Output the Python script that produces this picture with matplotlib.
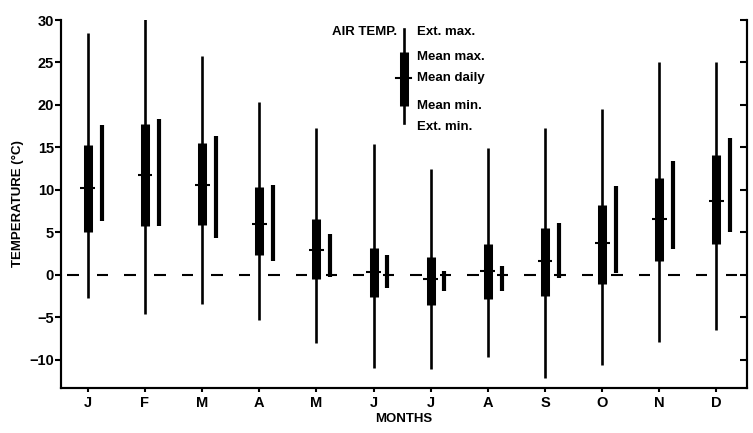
import numpy as np
import matplotlib
matplotlib.use('Agg')
import matplotlib.pyplot as plt

plt.rcParams.update({
    'font.family': ['Liberation Sans', 'DejaVu Sans'],
    'font.size': 10,
    'font.weight': 'bold',
    'axes.labelweight': 'bold',
    'axes.linewidth': 1.5,
})

months = ['J', 'F', 'M', 'A', 'M', 'J', 'J', 'A', 'S', 'O', 'N', 'D']

# air temperature (deg C)
ext_max  = [28.5, 30.3, 25.8, 20.4, 17.3, 15.4, 12.5, 14.9, 17.3, 19.5, 25.1, 25.1]
mean_max = [15.3, 17.8, 15.5, 10.3,  6.6,  3.2,  2.1,  3.6,  5.5,  8.2, 11.4, 14.1]
mean_day = [10.2, 11.8, 10.6,  6.0,  2.9,  0.4, -0.5,  0.5,  1.6,  3.8,  6.6,  8.7]
mean_min = [ 5.1,  5.8,  5.9,  2.4, -0.5, -2.6, -3.5, -2.8, -2.5, -1.1,  1.7,  3.6]
ext_min  = [-2.7, -4.6, -3.4, -5.3, -8.0, -11.0, -11.1, -9.7, -12.1, -10.6, -7.9, -6.5]

# second (narrow) range bar beside each month
sec_top = [17.7, 18.4, 16.4, 10.6, 4.8, 2.4, 0.5, 1.0, 6.1, 10.5, 13.4, 16.1]
sec_bot = [ 6.3,  5.8,  4.4,  1.6, -0.2, -1.5, -1.9, -1.9, -0.3, 0.2, 3.1, 5.1]

x = np.arange(len(months))

fig = plt.figure(figsize=(7.53, 4.33), dpi=100)
ax = fig.add_axes([61/753, 1 - 388/433, 685.7/753, 368/433])

# dashed zero line, one dash either side of each month
for xi in x:
    ax.hlines([0, 0], [xi - 0.36, xi + 0.16], [xi - 0.16, xi + 0.36], color='k', lw=1.5)

ax.vlines(x, ext_min, ext_max, color='k', lw=1.9)
ax.vlines(x, mean_min, mean_max, color='k', lw=6.5)
ax.hlines(mean_day, x - 0.13, x + 0.13, color='k', lw=1.5)
ax.vlines(x + 0.24, sec_bot, sec_top, color='k', lw=3.0)

ax.set_xlim(-0.47, 11.53)
ax.set_ylim(-13.3, 30)
ax.set_yticks(np.arange(-10, 31, 5))
ax.set_yticklabels([str(v).replace('-', '\u2212') for v in range(-10, 31, 5)])
ax.set_xticks(x)
ax.set_xticklabels(months)
ax.spines['top'].set_visible(False)
ax.tick_params(axis='y', direction='out', length=4, width=1.5, pad=1, labelsize=10.5)
ax.tick_params(axis='x', direction='out', length=3, width=1.5, pad=3, labelsize=10.5)

# right-hand axis: mirrored inward ticks, no labels
ax2 = ax.twinx()
ax2.set_ylim(ax.get_ylim())
ax2.set_yticks(np.arange(-10, 31, 5))
ax2.set_yticklabels([])
ax2.tick_params(axis='y', direction='in', length=5, width=1.5)
ax2.spines['top'].set_visible(False)

ax.set_ylabel('TEMPERATURE (\u00b0C)', fontsize=9.5, labelpad=4)
ax.set_xlabel('MONTHS', fontsize=9.5, labelpad=2)

# key
t = ax.transAxes
ax.plot([0.5, 0.5], [0.720, 0.976], color='k', lw=1.9, transform=t)
ax.plot([0.5, 0.5], [0.766, 0.913], color='k', lw=6.5, solid_capstyle='butt', transform=t)
ax.plot([0.489, 0.511], [0.842, 0.842], color='k', lw=1.5, transform=t)
ax.text(0.49, 0.967, 'AIR TEMP.', transform=t, ha='right', va='center', fontsize=9.5,
        family=['Liberation Sans Narrow', 'Liberation Sans'])
key_labels = ['Ext. max.', 'Mean max.', 'Mean daily', 'Mean min.', 'Ext. min.']
key_y = [0.967, 0.899, 0.842, 0.766, 0.709]
for lab, yy in zip(key_labels, key_y):
    ax.text(0.519, yy, lab, transform=t, ha='left', va='center', fontsize=9.5,
            family=['Liberation Sans Narrow', 'Liberation Sans'])

plt.savefig('out.png', dpi=100)
